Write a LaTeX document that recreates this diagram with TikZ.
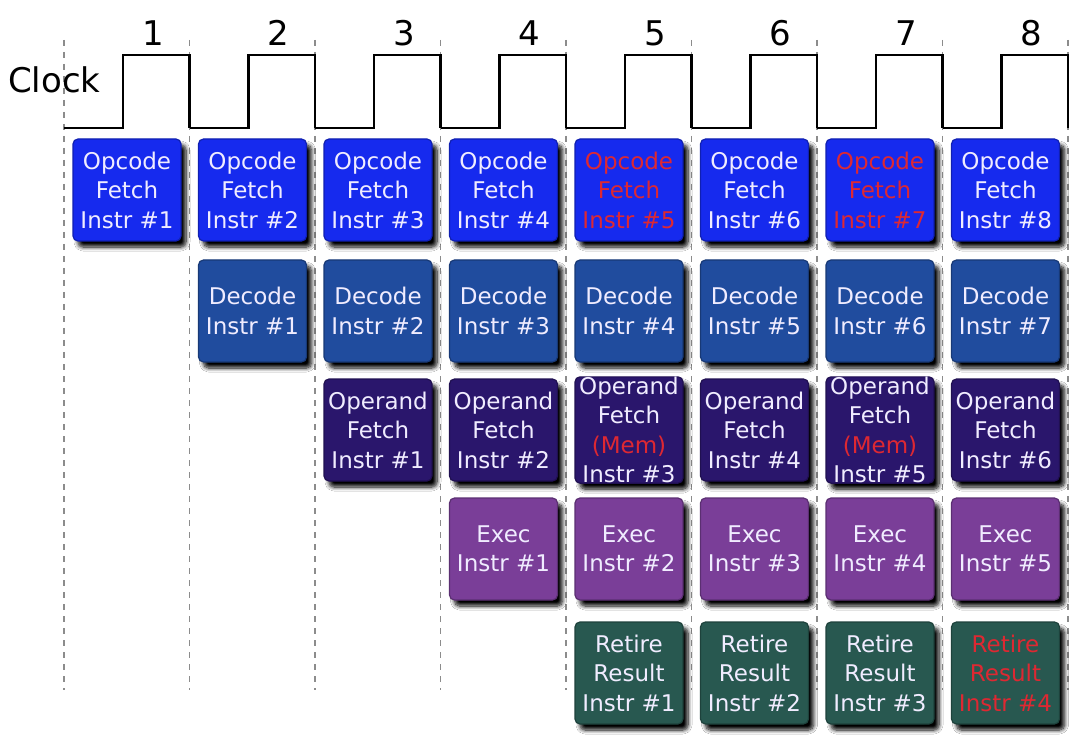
\documentclass[tikz,border=0pt]{standalone}
\usepackage{fontspec}
\setmainfont{DejaVu Sans}
\usetikzlibrary{shadows,shadows.blur}
\definecolor{cfetch}{RGB}{22,42,238}
\definecolor{cdecode}{RGB}{32,76,158}
\definecolor{coperand}{RGB}{42,22,108}
\definecolor{cexec}{RGB}{122,62,152}
\definecolor{cretire}{RGB}{40,88,80}
\definecolor{txt}{RGB}{240,236,255}
\definecolor{hot}{RGB}{222,40,50}
\definecolor{gridgray}{RGB}{140,140,140}
\tikzset{
  stagebox/.style={rounded corners=5pt, minimum width=108pt, minimum height=102pt,
    inner sep=0pt, align=center, text=txt, font=\fontsize{23}{29.5}\selectfont,
    blur shadow={shadow xshift=5pt, shadow yshift=-6pt, shadow blur radius=4pt, shadow opacity=100, shadow blur steps=8}},
  fetchbox/.style={stagebox, fill=cfetch, draw=cfetch!75!black, line width=1.2pt},
  decodebox/.style={stagebox, fill=cdecode, draw=cdecode!75!black, line width=1.2pt},
  operandbox/.style={stagebox, fill=coperand, draw=coperand!75!black, line width=1.2pt},
  execbox/.style={stagebox, fill=cexec, draw=cexec!75!black, line width=1.2pt},
  retirebox/.style={stagebox, fill=cretire, draw=cretire!75!black, line width=1.2pt},
  gridline/.style={draw=gridgray, line width=1.3pt, dash pattern=on 6pt off 6pt},
  clockline/.style={draw=black, line width=2.2pt, line join=miter},
  bigtext/.style={font=\fontsize{34}{40}\selectfont, inner sep=0pt},
}
\begin{document}
\begin{tikzpicture}[x=1pt,y=-1pt]
\path[use as bounding box, fill=white] (0,0) rectangle (1088,738);
% grid lines
\foreach \k in {0,...,8}{
  \coordinate (gt\k) at ({64+125.5*\k},40);
  \coordinate (gb\k) at ({64+125.5*\k},690);
  \draw[gridline] (gt\k) -- (gb\k);
}
% clock
\node[bigtext, anchor=west] (clk) at (8,80) {Clock};
\foreach \k in {0,...,7}{
  \pgfmathsetmacro{\xa}{64+125.5*\k}
  \pgfmathsetmacro{\xr}{\xa+59}
  \pgfmathsetmacro{\xb}{\xa+125.5}
  \pgfmathtruncatemacro{\n}{\k+1}
  \coordinate (ca\k) at (\xa,128);
  \coordinate (cr\k) at (\xr,128);
  \coordinate (ch\k) at (\xr,55);
  \coordinate (cf\k) at (\xb,55);
  \coordinate (cl\k) at (\xb,128);
  \draw[clockline] (ca\k) -- (cr\k) -- (ch\k) -- (cf\k) -- (cl\k);
  \node[bigtext] (num\n) at ({\xa+89},33) {\n};
}
% row 1: opcode fetch
\foreach \k in {1,...,8}{
  \pgfmathsetmacro{\cx}{64+125.5*(\k-1)+63}
  \ifnum\k=5 \def\tc{hot}\else\ifnum\k=7 \def\tc{hot}\else\def\tc{txt}\fi\fi
  \node[fetchbox, text=\tc] (f\k) at (\cx,190) {Opcode\\Fetch\\Instr \#\k};
}
% row 2: decode
\foreach \k in {2,...,8}{
  \pgfmathsetmacro{\cx}{64+125.5*(\k-1)+63}
  \pgfmathtruncatemacro{\i}{\k-1}
  \node[decodebox] (d\k) at (\cx,311) {Decode\\Instr \#\i};
}
% row 3: operand fetch
\foreach \k in {3,...,8}{
  \pgfmathsetmacro{\cx}{64+125.5*(\k-1)+63}
  \pgfmathtruncatemacro{\i}{\k-2}
  \ifnum\k=5
    \node[operandbox] (o\k) at (\cx,430) {Operand\\Fetch\\\textcolor{hot}{(Mem)}\\Instr \#\i};
  \else\ifnum\k=7
    \node[operandbox] (o\k) at (\cx,430) {Operand\\Fetch\\\textcolor{hot}{(Mem)}\\Instr \#\i};
  \else
    \node[operandbox] (o\k) at (\cx,430) {Operand\\Fetch\\Instr \#\i};
  \fi\fi
}
% row 4: exec
\foreach \k in {4,...,8}{
  \pgfmathsetmacro{\cx}{64+125.5*(\k-1)+63}
  \pgfmathtruncatemacro{\i}{\k-3}
  \node[execbox] (e\k) at (\cx,549) {Exec\\Instr \#\i};
}
% row 5: retire
\foreach \k in {5,...,8}{
  \pgfmathsetmacro{\cx}{64+125.5*(\k-1)+63}
  \pgfmathtruncatemacro{\i}{\k-4}
  \ifnum\k=8 \def\tc{hot}\else\def\tc{txt}\fi
  \node[retirebox, text=\tc] (r\k) at (\cx,673) {Retire\\Result\\Instr \#\i};
}
\end{tikzpicture}
\end{document}
